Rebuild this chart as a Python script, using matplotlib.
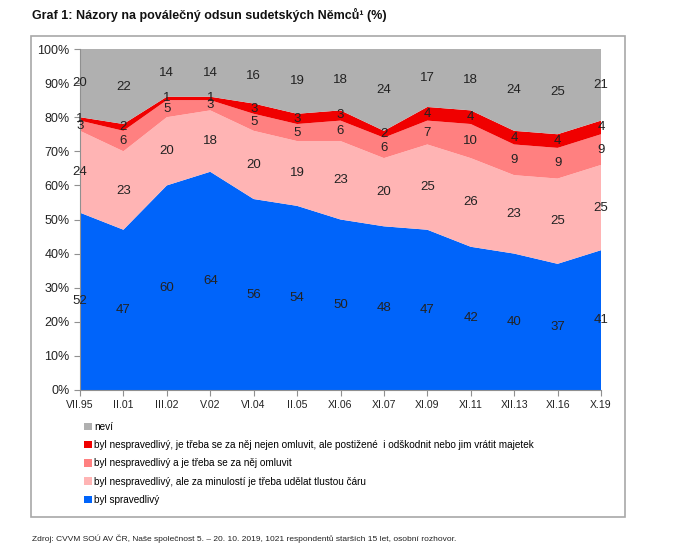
import matplotlib
matplotlib.use("Agg")
import matplotlib.pyplot as plt
from matplotlib.patches import Rectangle, Patch
import numpy as np

plt.rcParams['font.family'] = ['Liberation Sans', 'DejaVu Sans']

dates = ["VII.95", "II.01", "III.02", "V.02", "VI.04", "II.05", "XI.06", "XI.07",
         "XI.09", "XI.11", "XII.13", "XI.16", "X.19"]
spravedlivy = [52, 47, 60, 64, 56, 54, 50, 48, 47, 42, 40, 37, 41]
tlusta_cara = [24, 23, 20, 18, 20, 19, 23, 20, 25, 26, 23, 25, 25]
omluvit = [3, 6, 5, 3, 5, 5, 6, 6, 7, 10, 9, 9, 9]
odskodnit = [1, 2, 1, 1, 3, 3, 3, 2, 4, 4, 4, 4, 4]
nevi = [20, 22, 14, 14, 16, 19, 18, 24, 17, 18, 24, 25, 21]

series = [spravedlivy, tlusta_cara, omluvit, odskodnit, nevi]
labels = ["byl spravedlivý",
          "byl nespravedlivý, ale za minulostí je třeba udělat tlustou čáru",
          "byl nespravedlivý a je třeba se za něj omluvit",
          "byl nespravedlivý, je třeba se za něj nejen omluvit, ale postižené  i odškodnit nebo jim vrátit majetek",
          "neví"]
colors = ["#0064FA", "#FFB4B4", "#FF8080", "#F00000", "#B0B0B0"]

fig = plt.figure(figsize=(6.82, 5.60), dpi=100)
W, H = 682, 560

# outer frame
fig.patches.append(Rectangle((31 / W, 1 - 517 / H), (625 - 31) / W, (517 - 36) / H,
                             transform=fig.transFigure, fill=False,
                             edgecolor="#A8A8A8", linewidth=1.2))

ax = fig.add_axes([80 / W, 1 - 390 / H, (601 - 80) / W, (390 - 49) / H])
x = np.arange(len(dates))
data = np.array(series, dtype=float)
ax.stackplot(x, data, colors=colors, linewidth=0)

cum = np.cumsum(data, axis=0)
for i in range(data.shape[0]):
    for j in range(data.shape[1]):
        mid = cum[i, j] - data[i, j] / 2
        ax.text(x[j], mid, f"{int(data[i, j])}", ha="center", va="center",
                fontsize=9.5, color="#222222")

ax.set_xlim(0, len(dates) - 1)
ax.set_ylim(0, 100)
ax.set_xticks(x)
ax.set_xticklabels(dates, fontsize=7.6)
ax.set_yticks(np.arange(0, 101, 10))
ax.set_yticklabels([f"{v}%" for v in range(0, 101, 10)], fontsize=9)
for s in ["top", "right"]:
    ax.spines[s].set_visible(False)
for s in ["left", "bottom"]:
    ax.spines[s].set_color("#909090")
    ax.spines[s].set_linewidth(0.8)
ax.tick_params(axis="both", colors="#909090", labelcolor="#222222", length=4, width=0.8)
ax.tick_params(axis="x", pad=3)

fig.text(32 / W, 1 - 15 / H, "Graf 1: Názory na poválečný odsun sudetských Němců¹ (%)",
         fontsize=9, fontweight="bold", va="center", ha="left", color="#111111")

handles = [Patch(facecolor=colors[i], edgecolor="none", label=labels[i]) for i in range(4, -1, -1)]
fig.legend(handles=handles, loc="upper left", bbox_to_anchor=(80 / W, 1 - 418 / H),
           frameon=False, fontsize=7.2, handlelength=0.75, handleheight=0.75,
           handletextpad=0.25, labelspacing=0.82, borderaxespad=0)

fig.text(32 / W, 1 - 539 / H,
         "Zdroj: CVVM SOÚ AV ČR, Naše společnost 5. – 20. 10. 2019, 1021 respondentů starších 15 let, osobní rozhovor.",
         fontsize=6, va="center", ha="left", color="#222222")

fig.savefig("out.png", dpi=100)
